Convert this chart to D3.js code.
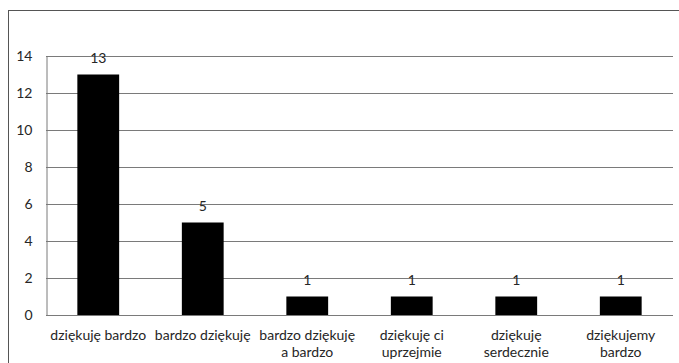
<!DOCTYPE html>
<html>
<head>
<meta charset="utf-8">
<script src="https://cdn.jsdelivr.net/npm/d3@7"></script>
<style>
  html, body { margin: 0; padding: 0; background: #fff; }
  svg { display: block; }
  text { font-family: Lato, "Open Sans", sans-serif; fill: #262626; }
</style>
</head>
<body>
<svg id="chart" width="679" height="363"></svg>
<script>
// Phrases and how many times each was used
const categories = [
  ["dziękuję bardzo"],
  ["bardzo dziękuję"],
  ["bardzo dziękuję", "a bardzo"],
  ["dziękuję ci", "uprzejmie"],
  ["dziękuję", "serdecznie"],
  ["dziękujemy", "bardzo"]
];
const values = [13, 5, 1, 1, 1, 1];
const yTicks = [0, 2, 4, 6, 8, 10, 12, 14];

const svg = d3.select("#chart");
const W = 679, H = 363;
const plot = { left: 46, right: 673, top: 56, bottom: 315 };
const fontSize = "14px";

// Chart frame (runs off the right and bottom edges)
svg.append("rect")
  .attr("x", 8.5).attr("y", 10.5)
  .attr("width", W + 10).attr("height", H + 10)
  .attr("fill", "none").attr("stroke", "#555").attr("stroke-width", 1);

const x = d3.scaleBand()
  .domain(categories.map((d, i) => i))
  .range([plot.left, plot.right])
  .paddingInner(0.6).paddingOuter(0.3);

const y = d3.scaleLinear().domain([0, 14]).range([plot.bottom, plot.top]);

// Horizontal gridlines
svg.append("g")
  .selectAll("line")
  .data(yTicks)
  .join("line")
  .attr("x1", plot.left).attr("x2", plot.right)
  .attr("y1", d => Math.round(y(d)) + 0.5).attr("y2", d => Math.round(y(d)) + 0.5)
  .attr("stroke", "#7a7a7a").attr("stroke-width", 1);

// Value axis
const yAxis = d3.axisLeft(y).tickValues(yTicks).tickSize(0).tickPadding(14);
const gy = svg.append("g")
  .attr("transform", `translate(${plot.left + 0.5},0)`)
  .call(yAxis);
gy.select(".domain").attr("stroke", "#7a7a7a");
gy.selectAll("text")
  .style("font-family", "Lato, 'Open Sans', sans-serif")
  .style("font-size", fontSize).attr("fill", "#262626");

// Bars
svg.append("g")
  .selectAll("rect")
  .data(values)
  .join("rect")
  .attr("x", (d, i) => x(i))
  .attr("width", x.bandwidth())
  .attr("y", d => y(d))
  .attr("height", d => y(0) - y(d))
  .attr("fill", "#000");

// Value labels above bars
svg.append("g")
  .selectAll("text")
  .data(values)
  .join("text")
  .attr("x", (d, i) => x(i) + x.bandwidth() / 2)
  .attr("y", d => y(d) - 12)
  .attr("text-anchor", "middle")
  .style("font-size", fontSize)
  .text(d => d);

// Category labels
const gx = svg.append("g");
categories.forEach((lines, i) => {
  const cx = x(i) + x.bandwidth() / 2;
  const t = gx.append("text")
    .attr("x", cx)
    .attr("y", 340)
    .attr("text-anchor", "middle")
    .style("font-size", fontSize);
  lines.forEach((ln, j) => {
    t.append("tspan")
      .attr("x", cx)
      .attr("dy", j === 0 ? 0 : 16.5)
      .text(ln);
  });
});
</script>
</body>
</html>
